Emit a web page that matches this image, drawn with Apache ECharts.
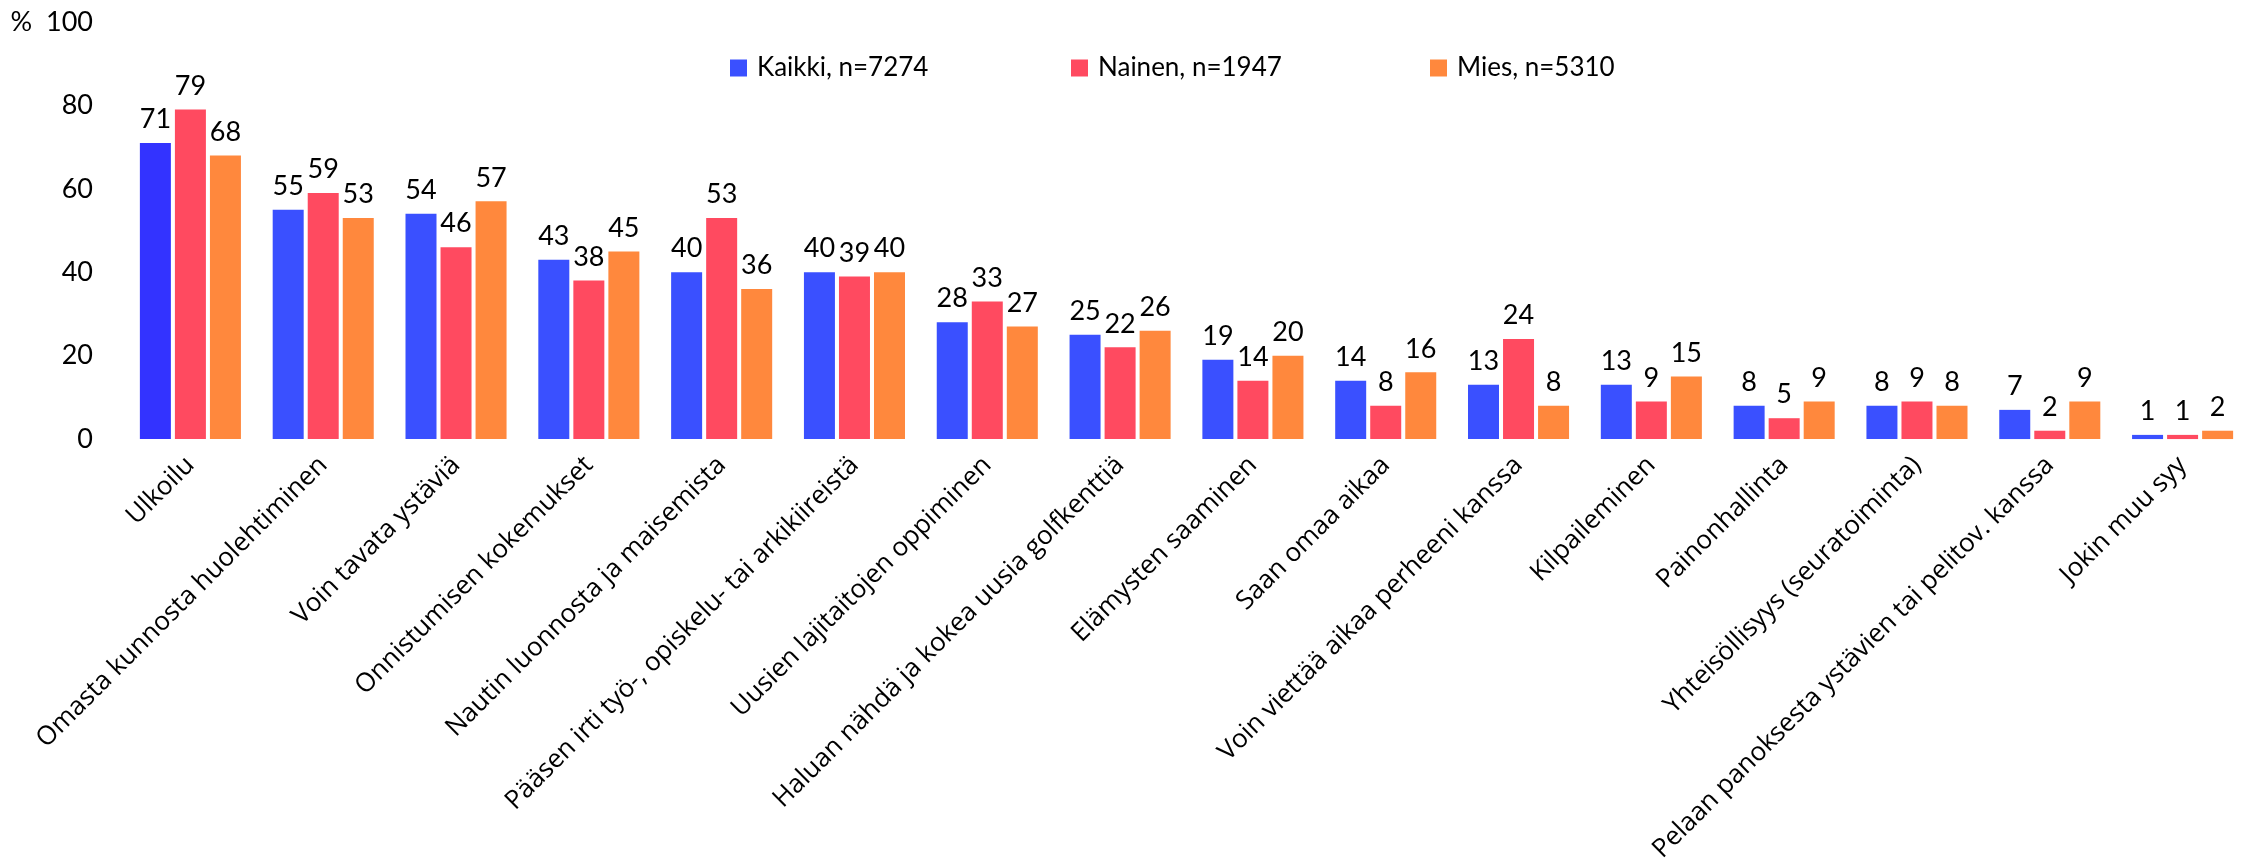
<!DOCTYPE html>
<html>
<head>
<meta charset="utf-8">
<script src="https://cdn.jsdelivr.net/npm/echarts@6/dist/echarts.min.js"></script>
<style>
  html, body { margin: 0; padding: 0; background: #fff; }
  .main { width: 2249px; height: 865px; }
</style>
</head>
<body>
<div class="main"></div>
<script>
var categories = [
  'Ulkoilu',
  'Omasta kunnosta huolehtiminen',
  'Voin tavata ystäviä',
  'Onnistumisen kokemukset',
  'Nautin luonnosta ja maisemista',
  'Pääsen irti työ-, opiskelu- tai arkikiireistä',
  'Uusien lajitaitojen oppiminen',
  'Haluan nähdä ja kokea uusia golfkenttiä',
  'Elämysten saaminen',
  'Saan omaa aikaa',
  'Voin viettää aikaa perheeni kanssa',
  'Kilpaileminen',
  'Painonhallinta',
  'Yhteisöllisyys (seuratoiminta)',
  'Pelaan panoksesta ystävien tai pelitov. kanssa',
  'Jokin muu syy'
];
var seriesNames = ['Kaikki, n=7274', 'Nainen, n=1947', 'Mies, n=5310'];
var kaikki = [71, 55, 54, 43, 40, 40, 28, 25, 19, 14, 13, 13, 8, 8, 7, 1];
var nainen = [79, 59, 46, 38, 53, 39, 33, 22, 14, 8, 24, 9, 5, 9, 2, 1];
var mies = [68, 53, 57, 45, 36, 40, 27, 26, 20, 16, 8, 15, 9, 8, 9, 2];
var yTicks = [0, 20, 40, 60, 80, 100];

var colors = ['#3a50ff', '#ff4a60', '#ff883d'];
var numFont = 'Lato, "Liberation Sans", sans-serif';

var myChart = echarts.init(document.querySelector('.main'));

function barSeries(name, values, color) {
  return {
    name: name,
    type: 'bar',
    data: values.map(function (v, i) {
      // the first Kaikki bar is a bit darker in the original
      if (name === seriesNames[0] && i === 0) {
        return { value: v, itemStyle: { color: '#3333ff' } };
      }
      return v;
    }),
    itemStyle: { color: color },
    barWidth: 31,
    barGap: '13%',
    label: {
      show: true,
      position: 'top',
      distance: 10,
      color: '#000',
      fontSize: 27,
      fontFamily: numFont
    }
  };
}

// one legend per series so each item sits where it does in the original
function oneLegend(i, left) {
  return {
    data: [seriesNames[i]],
    left: left,
    top: 50,
    itemWidth: 17,
    itemHeight: 17,
    icon: 'rect',
    textStyle: {
      color: '#000',
      fontSize: 26,
      fontFamily: numFont,
      padding: [0, 0, 0, 5]
    }
  };
}

var option = {
  animation: false,
  legend: [oneLegend(0, 725), oneLegend(1, 1066), oneLegend(2, 1425)],
  grid: { left: 124, top: 22, width: 2128, height: 421 },
  xAxis: {
    type: 'category',
    data: categories,
    axisLine: { show: false },
    axisTick: { show: false },
    axisLabel: {
      rotate: 45,
      interval: 0,
      margin: 22,
      color: '#000',
      fontSize: 26,
      fontFamily: '"Open Sans", "Noto Sans", sans-serif'
    }
  },
  yAxis: {
    type: 'value',
    min: yTicks[0],
    max: yTicks[yTicks.length - 1],
    interval: 20,
    splitLine: { show: false },
    axisLine: { show: false },
    axisTick: { show: false },
    axisLabel: {
      margin: 31,
      color: '#000',
      fontSize: 27,
      fontFamily: numFont,
      formatter: function (v) {
        return v === 100 ? '%  ' + v : String(v);
      }
    }
  },
  series: [
    barSeries(seriesNames[0], kaikki, colors[0]),
    barSeries(seriesNames[1], nainen, colors[1]),
    barSeries(seriesNames[2], mies, colors[2])
  ]
};
myChart.setOption(option);
</script>
</body>
</html>
